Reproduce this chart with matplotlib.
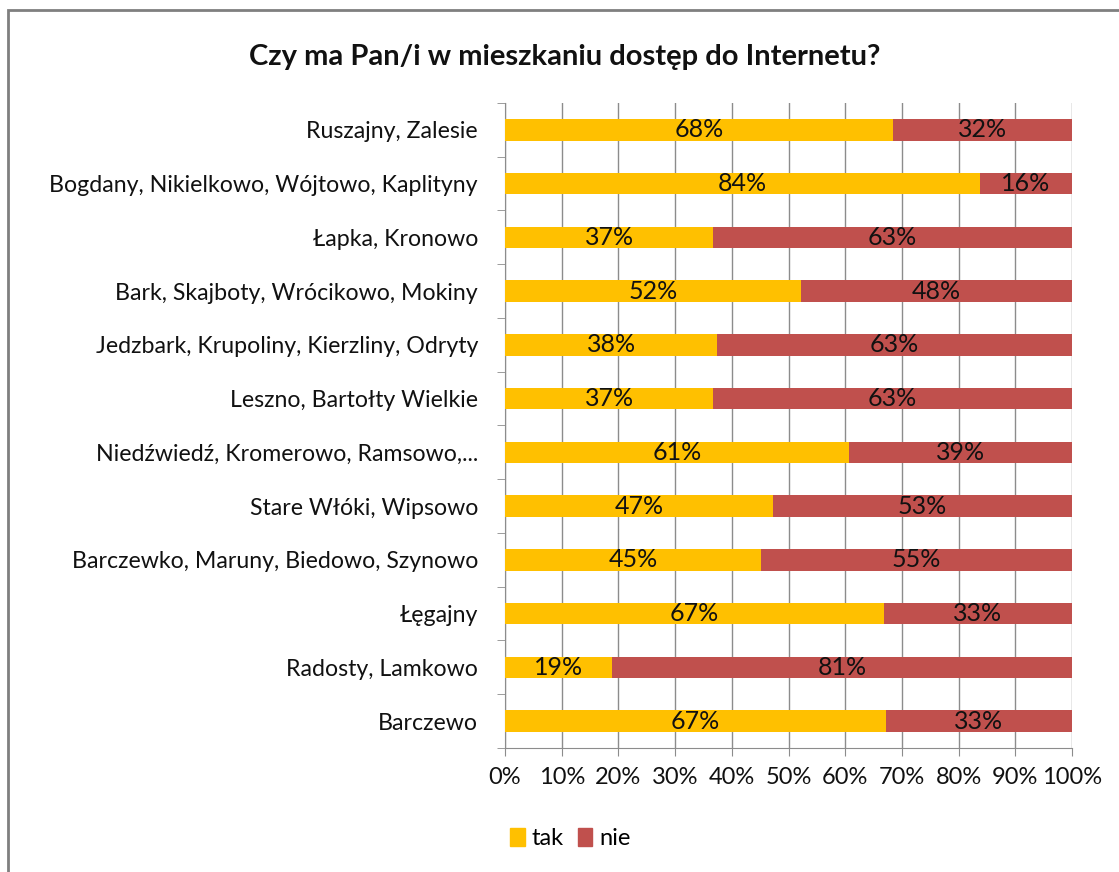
import matplotlib
matplotlib.use("Agg")
import matplotlib.pyplot as plt
from matplotlib.patches import Rectangle, Patch
import numpy as np

plt.rcParams['font.family'] = ['Lato', 'DejaVu Sans']

# categories, top to bottom
places = [
    "Ruszajny, Zalesie",
    "Bogdany, Nikielkowo, Wójtowo, Kaplityny",
    "Łapka, Kronowo",
    "Bark, Skajboty, Wrócikowo, Mokiny",
    "Jedzbark, Krupoliny, Kierzliny, Odryty",
    "Leszno, Bartołty Wielkie",
    "Niedźwiedź, Kromerowo, Ramsowo,...",
    "Stare Włóki, Wipsowo",
    "Barczewko, Maruny, Biedowo, Szynowo",
    "Łęgajny",
    "Radosty, Lamkowo",
    "Barczewo",
]
# share of "tak" (%)
tak = [68.4, 83.8, 36.7, 52.2, 37.4, 36.7, 60.7, 47.3, 45.1, 66.8, 18.9, 67.2]
nie = [100 - v for v in tak]
# data labels as printed in the chart
tak_lbl = ["68%", "84%", "37%", "52%", "38%", "37%", "61%", "47%", "45%", "67%", "19%", "67%"]
nie_lbl = ["32%", "16%", "63%", "48%", "63%", "63%", "39%", "53%", "55%", "33%", "81%", "33%"]
xticks = [0, 10, 20, 30, 40, 50, 60, 70, 80, 90, 100]

YEL = "#FFC000"
RED = "#C0504D"
GRID = "#8C8C8C"

fig = plt.figure(figsize=(11.19, 8.72), dpi=100)
ax = fig.add_axes([0.4513, 0.1422, 0.958 - 0.4513, 0.8819 - 0.1422])

y = np.arange(len(places))
ax.barh(y, tak, height=0.4, color=YEL, zorder=3)
ax.barh(y, nie, left=tak, height=0.4, color=RED, zorder=3)

for i in range(len(places)):
    ax.text(tak[i] / 2, y[i], tak_lbl[i], ha="center", va="center",
            fontsize=18, color="#111111", zorder=4)
    ax.text(tak[i] + nie[i] / 2, y[i], nie_lbl[i], ha="center", va="center",
            fontsize=18, color="#111111", zorder=4)

ax.set_xlim(0, 100)
ax.set_ylim(len(places) - 0.5, -0.5)
ax.set_xticks(xticks)
ax.set_xticklabels([f"{t}%" for t in xticks], fontsize=17, color="#111111")
ax.set_yticks(y)
ax.set_yticklabels(places, fontsize=16.7, color="#111111")
ax.set_yticks(np.arange(-0.5, len(places)), minor=True)
ax.tick_params(axis="y", which="major", length=0, pad=19.5)
ax.tick_params(axis="y", which="minor", length=6, color=GRID)
ax.tick_params(axis="x", length=6, color=GRID, pad=8)
ax.xaxis.grid(True, color=GRID, linewidth=1, zorder=0)

for s in ["top", "right"]:
    ax.spines[s].set_visible(False)
for s in ["left", "bottom"]:
    ax.spines[s].set_color(GRID)

fig.text(0.505, 0.935, "Czy ma Pan/i w mieszkaniu dostęp do Internetu?",
         ha="center", va="center", fontsize=21, fontweight="bold", color="#111111")

ax.legend(handles=[Patch(color=YEL, label="tak"), Patch(color=RED, label="nie")],
          loc="center left", bbox_to_anchor=(-0.028, -0.14), ncol=2, frameon=False,
          fontsize=17, handlelength=0.6, handleheight=0.8, handletextpad=0.3,
          columnspacing=0.6)

# outer chart frame
fig.patches.append(Rectangle((8 / 1119, -0.05), 1.1, 1 - 10 / 872 + 0.05,
                             transform=fig.transFigure, fill=False,
                             edgecolor="#7F7F7F", linewidth=2))

fig.savefig("out.png", dpi=100)
